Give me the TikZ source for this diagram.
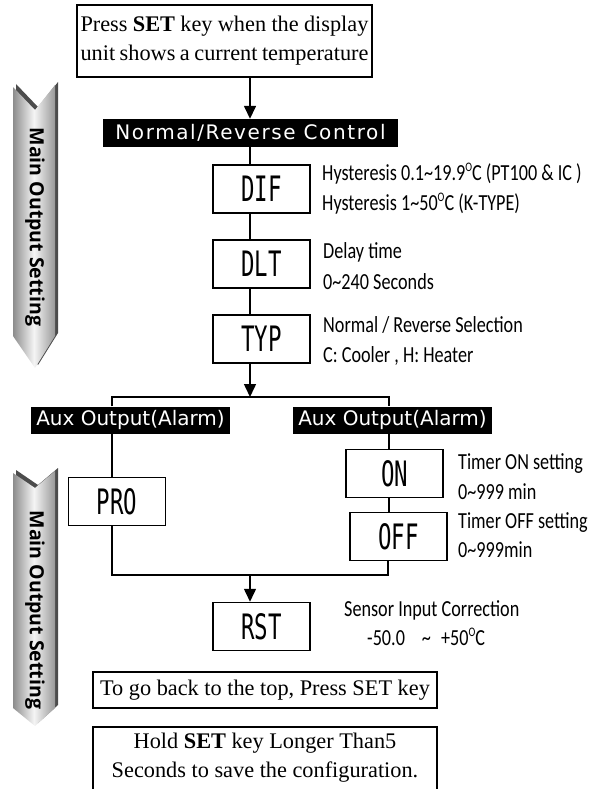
\documentclass[tikz,border=0pt]{standalone}
\usepackage{fontspec}
\setmainfont{Liberation Serif}
\newfontfamily\descfont[FakeStretch=0.79]{Carlito}
\newfontfamily\segfont[FakeStretch=0.64]{DejaVu Sans Mono}
\newfontfamily\barfontA[LetterSpace=8]{DejaVu Sans}
\newfontfamily\barfontB{DejaVu Sans}
\newfontfamily\ribfont{Open Sans}
\usetikzlibrary{arrows.meta}
\newcommand\tild{\textasciitilde}
\newcommand\degO{\raisebox{8.5pt}{\fontsize{13}{13}\selectfont O}}
\begin{document}
\begin{tikzpicture}[x=1pt,y=-1pt,
  ln/.style={line width=1.5pt},
  box/.style={draw, line width=1.5pt, inner sep=0pt},
  seg/.style={box, minimum width=97pt, minimum height=48pt, font=\segfont\fontsize{35}{35}\selectfont},
  bar/.style={fill=black, text=white, inner sep=0pt},
  desc/.style={anchor=base west, inner sep=0pt, font=\descfont\fontsize{23}{24}\selectfont},
  arr/.style={ln, -{Triangle[width=12pt,length=13pt]}},
  ribbon/.style={left color=gray!90, right color=gray!80, middle color=gray!8},
  ribshadow/.style={fill=gray!60!black},
  ribtext/.style={rotate=-90, inner sep=0pt, font=\ribfont\bfseries\fontsize{19.5}{20}\selectfont},
  serif/.style={font=\fontsize{22.3}{29}\selectfont}
]
\useasboundingbox (0,0) rectangle (602,789);

% ribbons
\fill[ribshadow, shift={(3,-3)}] (13,87) -- (35,110) -- (55,85) -- (55,336) -- (35,368) -- (13,336) -- cycle;
\shade[ribbon] (13,87) -- (35,110) -- (55,85) -- (55,336) -- (35,368) -- (13,336) -- cycle;
\node[ribtext] (r1) at (35,227) {Main Output Setting};
\fill[ribshadow, shift={(3,-3)}] (13,473) -- (35,488) -- (55,471) -- (55,708) -- (35,726) -- (13,708) -- cycle;
\shade[ribbon] (13,473) -- (35,488) -- (55,471) -- (55,708) -- (35,726) -- (13,708) -- cycle;
\node[ribtext] (r2) at (35,610) {Main Output Setting};

% top box
\node[box, serif, minimum width=295pt, minimum height=72pt, align=left] (top) at (224.5,41)
  {\makebox[288pt][s]{Press \textbf{SET} key when the display}\\\makebox[288pt][s]{unit shows a current temperature}};

\node[bar, minimum width=295pt, minimum height=28pt, font=\barfontA\fontsize{20}{20}\selectfont] (nr) at (250.5,133) {Normal/Reverse Control};

\node[seg] (dif) at (261.5,189) {DIF};
\node[seg] (dlt) at (261.5,264) {DLT};
\node[seg] (typ) at (261.5,339) {TYP};

\node[bar, minimum width=199pt, minimum height=27pt, font=\barfontB\fontsize{20}{20}\selectfont] (auxL) at (130.5,420) {Aux Output(Alarm)};
\node[bar, minimum width=199pt, minimum height=27pt, font=\barfontB\fontsize{20}{20}\selectfont] (auxR) at (392.5,420) {Aux Output(Alarm)};

\node[seg] (pro) at (117,501.5) {PRO};
\node[seg] (on) at (394.5,473.5) {ON};
\node[seg] (off) at (398.5,536.5) {OFF};
\node[seg] (rst) at (261.5,626.5) {RST};

\node[box, serif, minimum width=344pt, minimum height=36pt] (back) at (265,690) {To go back to the top, Press SET key};
\node[serif, inner sep=0pt, minimum width=344pt, minimum height=62pt, align=center] (hold) at (265,758)
  {Hold \textbf{SET} key Longer Than5\\Seconds to save the configuration.};
\draw[ln] (hold.south west) -- (hold.north west) -- (hold.north east) -- (hold.south east);

% connectors
\coordinate (stem) at (250,0);
\draw[arr] (top.south -| stem) -- (nr.north -| stem);
\draw[ln] (nr.south -| stem) -- (dif.north -| stem);
\draw[ln] (dif.south -| stem) -- (dlt.north -| stem);
\draw[ln] (dlt.south -| stem) -- (typ.north -| stem);
\coordinate (br) at (250,397);
\coordinate (bl) at (112,397);
\coordinate (brr) at (389,397);
\draw[arr] (typ.south -| stem) -- (br);
\draw[ln] (auxL.north -| bl) -- (bl) -- (brr) -- (auxR.north -| brr);
\draw[ln] (auxL.south -| bl) -- (pro.north -| bl);
\draw[ln] (auxR.south -| brr) -- (on.north -| brr);
\draw[ln] (on.south -| brr) -- (off.north -| brr);
\coordinate (jl) at (112,575);
\coordinate (jr) at (388,575);
\coordinate (jm) at (250,575);
\draw[ln] (pro.south -| bl) -- (jl) -- (jr) -- (off.south -| jr);
\draw[arr] (jm) -- (rst.north -| stem);

% descriptions
\node[desc] (d1) at (322,180) {Hysteresis 0.1\tild19.9\degO C (PT100 \& IC )};
\node[desc] (d2) at (322,210) {Hysteresis 1\tild50\degO C (K-TYPE)};
\node[desc] (d3) at (323,258) {Delay time};
\node[desc] (d4) at (323,289) {0\tild240 Seconds};
\node[desc] (d5) at (323,332) {Normal / Reverse Selection};
\node[desc] (d6) at (323,362) {C: Cooler , H: Heater};
\node[desc] (d7) at (458,469) {Timer ON setting};
\node[desc] (d8) at (458,499) {0\tild999 min};
\node[desc] (d9) at (458,528) {Timer OFF setting};
\node[desc] (d10) at (458,557) {0\tild999min};
\node[desc] (d11) at (344,616) {Sensor Input Correction};
\node[desc] (d12) at (367,645) {-50.0\hspace{17pt}\tild\hspace{10pt}+50\degO C};
\end{tikzpicture}
\end{document}
